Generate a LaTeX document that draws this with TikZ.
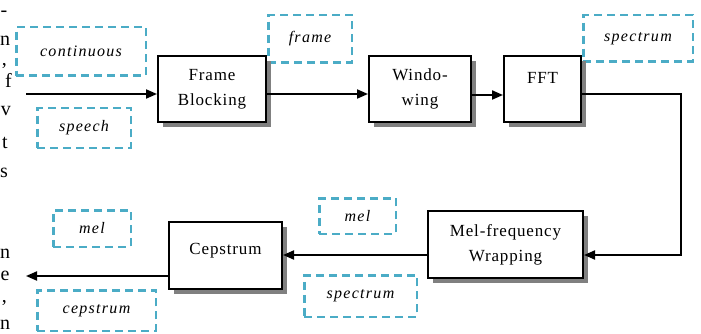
\documentclass[tikz,border=0pt]{standalone}
\usepackage{fontspec}
\setmainfont{Liberation Serif}
\newfontfamily\boxfont{Liberation Serif}[LetterSpace=5]
\newfontfamily\tagfont{Liberation Serif}[LetterSpace=8]
\usetikzlibrary{arrows.meta,shadows}
\definecolor{tagcyan}{RGB}{75,172,198}
\begin{document}
\begin{tikzpicture}[x=1pt,y=-1pt,
  stage/.style={draw=black,line width=2pt,fill=white,
    drop shadow={shadow xshift=5pt,shadow yshift=-5pt,fill=black!50,opacity=1},
    font=\boxfont\fontsize{17}{25}\selectfont,align=center,inner sep=0pt},
  tag/.style={draw=tagcyan,line width=2.5pt,dash pattern=on 8pt off 5pt,
    font=\tagfont\itshape\fontsize{16}{18}\selectfont,inner sep=0pt},
  arr/.style={line width=2pt,-{Triangle[length=11pt,width=9pt]}},
  frag/.style={font=\fontsize{20}{24}\selectfont,inner sep=0pt,anchor=base east},
  fragw/.style={font=\fontsize{20}{24}\selectfont,inner sep=0pt,anchor=base west}]
\useasboundingbox (0,0) rectangle (701,334);
\clip (0,0) rectangle (701,334);
% cut-off text at the left edge
\node[fragw] (f1) at (0.5,17) {-};
\node[fragw] (f2) at (0,46) {n};
\node[frag] (f3) at (7,66) {,};
\node[frag] (f4) at (12,88) {f};
\node[frag] (f5) at (11,116) {v};
\node[frag] (f6) at (8,149) {t};
\node[fragw] (f7) at (0,177) {s};
\node[fragw] (f8) at (0,258) {n};
\node[fragw] (f9) at (0.5,280) {e};
\node[frag] (f10) at (7,302) {,};
\node[fragw] (f11) at (0,329) {n};
% dashed tags
\node[tag,minimum width=129.5pt,minimum height=48.5pt] (tcont) at (81,51.5) {continuous};
\node[tag,minimum width=93.5pt,minimum height=39.5pt] (tspeech) at (84,128) {speech};
\node[tag,minimum width=83.5pt,minimum height=47.5pt] (tframe) at (310,39) {frame};
\node[tag,minimum width=109.5pt,minimum height=46.5pt] (tspec1) at (638,38.5) {spectrum};
\node[tag,minimum width=77.5pt,minimum height=36.5pt] (tmel1) at (92,228.5) {mel};
\node[tag,minimum width=118.5pt,minimum height=40.5pt] (tcep) at (96.5,310.5) {cepstrum};
\node[tag,minimum width=76.5pt,minimum height=35.5pt] (tmel2) at (357.5,216) {mel};
\node[tag,minimum width=112.5pt,minimum height=41.5pt] (tspec2) at (360.5,296) {spectrum};
% stages
\node[stage,minimum width=108pt,minimum height=66pt] (fb) at (212,89) {Frame\\Blocking};
\node[stage,minimum width=102pt,minimum height=66pt] (win) at (420,89) {Windo-\\wing};
\node[stage,minimum width=77pt,minimum height=66pt,text height=5pt,text depth=15pt] (fft) at (542.5,89) {FFT};
\node[stage,minimum width=155pt,minimum height=67pt] (mel) at (505.5,244.5) {Mel-frequency\\Wrapping};
\node[stage,minimum width=113pt,minimum height=67pt,text height=10pt,text depth=13pt] (cep) at (225.5,255.5) {Cepstrum};
% connectors
\coordinate (in) at (26,94);
\coordinate (out) at (26,276);
\coordinate (rail) at (681,0);
\coordinate (melin) at ([yshift=-10.5pt]mel.east);
\coordinate (melout) at ([yshift=-10.5pt]mel.west);
\draw[arr] (in) -- (in -| fb.west);
\draw[arr] ([yshift=-5pt]fb.east) -- ([yshift=-5pt]win.west);
\draw[arr] ([yshift=-6pt]win.east) -- ([yshift=-6pt]fft.west);
\draw[arr] ([yshift=-5pt]fft.east) -| (rail |- melin) -- (melin);
\draw[arr] (melout) -- (melout -| cep.east);
\draw[arr] ([yshift=-20.5pt]cep.west) -- (out);
\end{tikzpicture}
\end{document}
